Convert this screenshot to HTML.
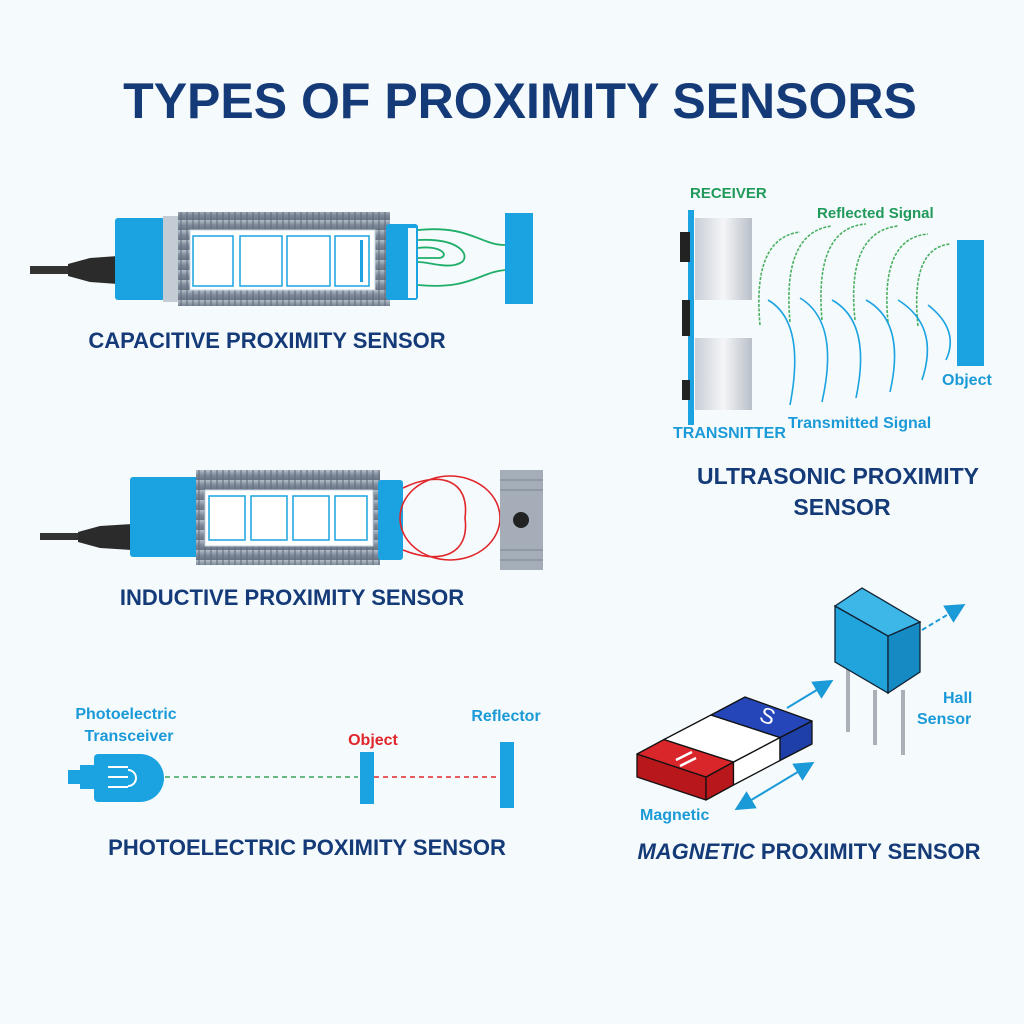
<!DOCTYPE html>
<html><head><meta charset="utf-8"><style>
html,body{margin:0;padding:0;background:#f5fafd;}
svg{display:block;font-family:"Liberation Sans",sans-serif;}
.t{font-weight:bold;fill:#143a78;}
.b{font-weight:bold;fill:#1b9ad8;font-size:16px;}
.g{font-weight:bold;fill:#1f9a5a;font-size:15px;}
</style></head><body>
<svg width="1024" height="1024" viewBox="0 0 1024 1024">
<defs>
<linearGradient id="metal" x1="0" y1="0" x2="0" y2="1">
<stop offset="0" stop-color="#b5bfca"/><stop offset=".5" stop-color="#7f8b9b"/><stop offset="1" stop-color="#6a7586"/></linearGradient>
<linearGradient id="cyl" x1="0" y1="0" x2="1" y2="0">
<stop offset="0" stop-color="#c9ced6"/><stop offset=".5" stop-color="#f4f6f8"/><stop offset="1" stop-color="#b9bfc8"/></linearGradient>
<pattern id="thr" width="6" height="10" patternUnits="userSpaceOnUse"><rect width="6" height="10" fill="url(#metal)"/><rect width="2" height="10" fill="#5f6a7a" opacity=".5"/></pattern>
<marker id="ah" markerWidth="10" markerHeight="10" refX="8" refY="5" orient="auto"><path d="M0,0 L10,5 L0,10z" fill="#1b9ad8"/></marker>
<marker id="ahs" markerWidth="10" markerHeight="10" refX="2" refY="5" orient="auto"><path d="M10,0 L0,5 L10,10z" fill="#1b9ad8"/></marker>
</defs>
<rect width="1024" height="1024" fill="#f5fafd"/>
<text x="520" y="118" text-anchor="middle" class="t" font-size="50">TYPES OF PROXIMITY SENSORS</text>

<!-- Capacitive -->
<rect x="30" y="266" width="40" height="8" fill="#333"/>
<path d="M68,264 L90,258 L118,256 L118,284 L90,282 L68,276z" fill="#2b2b2b"/>
<rect x="115" y="218" width="50" height="82" rx="3" fill="#1aa3e0"/>
<rect x="163" y="216" width="18" height="86" fill="#c3ccd5"/>
<rect x="178" y="212" width="212" height="94" fill="url(#thr)"/>
<rect x="190" y="230" width="185" height="60" fill="#fff" stroke="#c5d5e3"/>
<g fill="none" stroke="#1aa3e0" stroke-width="1.5"><rect x="193" y="236" width="40" height="50"/><rect x="240" y="236" width="42" height="50"/><rect x="287" y="236" width="43" height="50"/><rect x="335" y="236" width="34" height="50"/></g>
<rect x="360" y="240" width="3" height="42" fill="#1aa3e0"/>
<rect x="386" y="224" width="32" height="76" rx="3" fill="#1aa3e0"/>
<rect x="408" y="228" width="8" height="70" fill="#f3f8fb"/>
<g fill="none" stroke="#1fae6a" stroke-width="1.8"><path d="M418,230 C470,225 480,245 505,245"/><path d="M418,285 C470,290 480,272 505,270"/><path d="M418,240 C460,238 470,255 462,262 C450,270 430,262 418,262"/><path d="M418,248 C440,245 450,255 440,258 L418,258"/></g>
<rect x="505" y="213" width="28" height="91" fill="#1aa3e0"/>
<text x="267" y="348" text-anchor="middle" class="t" font-size="22">CAPACITIVE PROXIMITY SENSOR</text>

<!-- Inductive -->
<rect x="40" y="533" width="40" height="7" fill="#333"/>
<path d="M78,532 L100,526 L132,524 L132,550 L100,548 L78,542z" fill="#2b2b2b"/>
<rect x="130" y="477" width="70" height="80" rx="3" fill="#1aa3e0"/>
<rect x="196" y="470" width="184" height="95" fill="url(#thr)"/>
<rect x="205" y="490" width="168" height="56" fill="#fff" stroke="#c5d5e3"/>
<g fill="none" stroke="#1aa3e0" stroke-width="1.5"><rect x="209" y="496" width="36" height="44"/><rect x="251" y="496" width="36" height="44"/><rect x="293" y="496" width="36" height="44"/><rect x="335" y="496" width="32" height="44"/></g>
<rect x="378" y="480" width="25" height="80" rx="3" fill="#1aa3e0"/>
<g fill="none" stroke="#e0262a" stroke-width="1.6"><ellipse cx="450" cy="518" rx="50" ry="42"/><path d="M403,488 C440,470 470,480 465,518 C470,555 440,565 403,550"/></g>
<rect x="500" y="470" width="43" height="100" fill="#a4adb8"/>
<g stroke="#8a939e" stroke-width="1.5"><line x1="500" y1="480" x2="543" y2="480"/><line x1="500" y1="490" x2="543" y2="490"/><line x1="500" y1="550" x2="543" y2="550"/><line x1="500" y1="560" x2="543" y2="560"/></g>
<circle cx="521" cy="520" r="8" fill="#222"/>
<text x="292" y="605" text-anchor="middle" class="t" font-size="22">INDUCTIVE PROXIMITY SENSOR</text>

<!-- Ultrasonic -->
<text x="690" y="198" class="g">RECEIVER</text>
<text x="817" y="218" class="g">Reflected Signal</text>
<rect x="688" y="210" width="6" height="215" fill="#1aa3e0"/>
<rect x="680" y="232" width="10" height="30" fill="#222"/>
<rect x="682" y="300" width="8" height="36" fill="#222"/>
<rect x="682" y="380" width="8" height="20" fill="#222"/>
<rect x="695" y="218" width="57" height="82" fill="url(#cyl)"/>
<rect x="695" y="338" width="57" height="72" fill="url(#cyl)"/>
<g fill="none" stroke="#4ab060" stroke-width="1.6" stroke-dasharray="3,1.5">
<path d="M760,325 Q752,238 800,232"/><path d="M790,322 Q782,232 832,226"/><path d="M822,320 Q814,228 866,224"/><path d="M855,320 Q846,232 898,226"/><path d="M888,322 Q880,238 928,234"/><path d="M918,326 Q910,248 950,244"/></g>
<g fill="none" stroke="#1aa3e0" stroke-width="1.6">
<path d="M768,300 Q806,322 790,405"/><path d="M800,298 Q840,322 822,402"/><path d="M832,300 Q872,322 856,398"/><path d="M866,300 Q906,322 890,392"/><path d="M898,300 Q940,326 922,380"/><path d="M928,305 Q960,330 946,360"/></g>
<rect x="957" y="240" width="27" height="126" fill="#1aa3e0"/>
<text x="942" y="385" class="b" font-size="15">Object</text>
<text x="673" y="438" class="b" font-size="15">TRANSNITTER</text>
<text x="788" y="428" class="b" font-size="15">Transmitted Signal</text>
<text x="838" y="484" text-anchor="middle" class="t" font-size="23">ULTRASONIC PROXIMITY</text>
<text x="842" y="515" text-anchor="middle" class="t" font-size="23">SENSOR</text>

<!-- Photoelectric -->
<text x="126" y="719" text-anchor="middle" class="b">Photoelectric</text>
<text x="129" y="741" text-anchor="middle" class="b">Transceiver</text>
<rect x="68" y="770" width="12" height="14" fill="#1aa3e0"/>
<rect x="94" y="754" width="50" height="48" rx="4" fill="#1aa3e0"/>
<path d="M140,754 A24,24 0 0 1 140,802z" fill="#1aa3e0"/>
<rect x="80" y="765" width="16" height="24" fill="#1aa3e0"/>
<g stroke="#fff" stroke-width="2" fill="none"><line x1="108" y1="767" x2="128" y2="767"/><line x1="108" y1="777" x2="128" y2="777"/><line x1="108" y1="787" x2="128" y2="787"/><path d="M128,770 A8,8 0 0 1 128,786"/></g>
<line x1="165" y1="777" x2="358" y2="777" stroke="#3aa35a" stroke-width="1.5" stroke-dasharray="5,4"/>
<text x="373" y="745" text-anchor="middle" font-weight="bold" fill="#e0262a" font-size="16">Object</text>
<rect x="360" y="752" width="14" height="52" fill="#1aa3e0"/>
<line x1="374" y1="777" x2="500" y2="777" stroke="#e0262a" stroke-width="1.5" stroke-dasharray="5,4"/>
<text x="506" y="721" text-anchor="middle" class="b">Reflector</text>
<rect x="500" y="742" width="14" height="66" fill="#1aa3e0"/>
<text x="307" y="855" text-anchor="middle" class="t" font-size="22">PHOTOELECTRIC POXIMITY SENSOR</text>

<!-- Magnetic -->
<g stroke="#111" stroke-width="1.3" stroke-linejoin="round">
<path d="M637,754 L706,777 L706,800 L637,777z" fill="#b8181c"/>
<path d="M706,777 L733.5,762 L733.5,785 L706,800z" fill="#b8181c"/>
<path d="M733.5,762 L780,737.5 L780,760.5 L733.5,785z" fill="#fff"/>
<path d="M780,737.5 L812,721 L812,744 L780,760.5z" fill="#1e3fa8"/>
<path d="M637,754 L664,739.5 L733.5,762 L706,777z" fill="#d8262a"/>
<path d="M664,739.5 L711,715 L780,737.5 L733.5,762z" fill="#fff"/>
<path d="M711,715 L745,697 L812,721 L780,737.5z" fill="#2446b8"/>
</g>
<g stroke="#fff" stroke-width="2.5"><line x1="676" y1="760" x2="692" y2="752"/><line x1="680" y1="766" x2="696" y2="758"/></g>
<text x="765" y="723" fill="#fff" font-size="22" font-family="Liberation Sans" transform="rotate(20 765 723)" text-anchor="middle">S</text>
<g stroke="#aab0b8" stroke-width="4"><line x1="848" y1="668" x2="848" y2="732"/><line x1="875" y1="690" x2="875" y2="745"/><line x1="903" y1="690" x2="903" y2="755"/></g>
<path d="M835,606 L888,636 L888,693 L835,662z" fill="#21a3dc" stroke="#123" stroke-width="1.3"/>
<path d="M888,636 L920,622 L920,672 L888,693z" fill="#168ac2" stroke="#123" stroke-width="1.3"/>
<path d="M835,606 L862,588 L920,622 L888,636z" fill="#3db6e8" stroke="#123" stroke-width="1.3"/>
<line x1="787" y1="708" x2="830" y2="682" stroke="#1b9ad8" stroke-width="2" marker-end="url(#ah)"/>
<line x1="922" y1="630" x2="962" y2="606" stroke="#1b9ad8" stroke-width="2" stroke-dasharray="5,3" marker-end="url(#ah)"/>
<line x1="738" y1="808" x2="811" y2="764" stroke="#1b9ad8" stroke-width="2" marker-end="url(#ah)" marker-start="url(#ahs)"/>
<text x="943" y="703" class="b" font-size="17">Hall</text>
<text x="917" y="724" class="b" font-size="17">Sensor</text>
<text x="640" y="820" class="b" font-size="17">Magnetic</text>
<text x="809" y="859" text-anchor="middle" class="t" font-size="22"><tspan font-style="italic">MAGNETIC</tspan> PROXIMITY SENSOR</text>
</svg>
</body></html>
